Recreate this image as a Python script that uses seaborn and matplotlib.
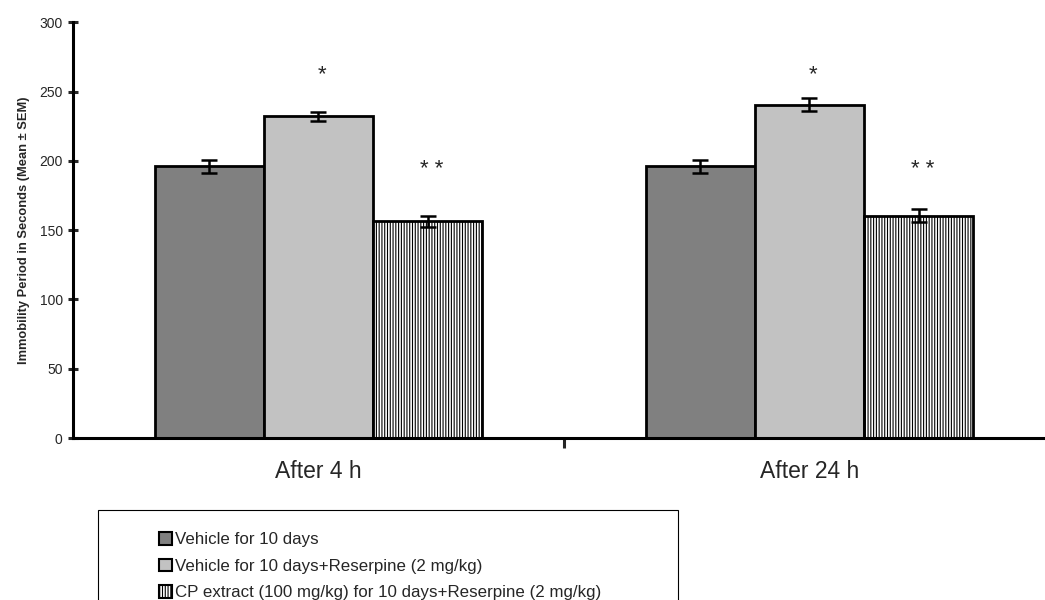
import pandas as pd
import matplotlib.pyplot as plt
import matplotlib.patches as mpatches
import seaborn as sns

# data
times = ["After 4 h", "After 24 h"]
groups = ["Vehicle for 10 days",
          "Vehicle for 10 days+Reserpine (2 mg/kg)",
          "CP extract (100 mg/kg) for 10 days+Reserpine (2 mg/kg)"]
means_4h = [196, 232, 156.5]
means_24h = [196, 240.5, 160.5]
sem_4h = [4.5, 3.5, 4]
sem_24h = [4.5, 4.5, 5]
stars_4h = ["", "*", "* *"]
stars_24h = ["", "*", "* *"]
star_y = [None, 258, 190]

colors = ["#808080", "#c2c2c2", "#ffffff"]
hatches = ["", "", "||||||"]

df = pd.DataFrame({
    "time": [times[0]] * 3 + [times[1]] * 3,
    "group": groups * 2,
    "mean": means_4h + means_24h,
    "sem": sem_4h + sem_24h,
})

sns.set_style("white")
plt.rcParams["font.family"] = ["Liberation Sans", "DejaVu Sans"]
plt.rcParams["hatch.linewidth"] = 0.8
plt.rcParams["hatch.color"] = "#666666"

fig = plt.figure(figsize=(10.45, 6), dpi=100)
ax = fig.add_axes([0.0699, 0.27, 0.9301, 0.693])

sns.barplot(data=df, x="time", y="mean", hue="group", hue_order=groups,
            order=times, palette=colors, width=0.667, saturation=1,
            edgecolor="black", linewidth=2, errorbar=None, legend=False, ax=ax)

# hatches / error bars / stars per bar
bar_conts = list(ax.containers)
for i, cont in enumerate(bar_conts):
    for j, bar in enumerate(cont.patches):
        bar.set_hatch(hatches[i])
        bar.set_edgecolor("black")
        cx = bar.get_x() + bar.get_width() / 2
        top = bar.get_height()
        err = (sem_4h if j == 0 else sem_24h)[i]
        ax.errorbar(cx, top, yerr=err, fmt="none", ecolor="black",
                    elinewidth=1.8, capsize=6, capthick=1.8, zorder=5)
        s = (stars_4h if j == 0 else stars_24h)[i]
        if s:
            ax.text(cx + 0.008, star_y[i], s, ha="center", va="baseline", fontsize=16)

ax.set_ylim(0, 300)
ax.set_yticks(range(0, 301, 50))
ax.set_xlim(-0.5, 1.48)
ax.set_xlabel("")
ax.set_ylabel("Immobility Period in Seconds (Mean \u00b1 SEM)", fontsize=9.3,
              fontweight="bold", labelpad=7)
for side in ["top", "right"]:
    ax.spines[side].set_visible(False)
for side in ["left", "bottom"]:
    ax.spines[side].set_linewidth(2.2)
    ax.spines[side].set_color("black")
ax.tick_params(axis="y", direction="inout", length=7, width=2.2, labelsize=10,
               left=True, pad=4)
ax.tick_params(axis="x", which="major", length=0, labelsize=16.5, pad=16)
ax.set_xticks([0.5], minor=True)
ax.tick_params(axis="x", which="minor", direction="out", length=7,
               width=2.2, bottom=True)

# legend box
fig.patches.append(mpatches.Rectangle((98 / 1045, -0.02), 580 / 1045, 0.17,
                                      transform=fig.transFigure, fill=False,
                                      edgecolor="black", linewidth=0.8))
handles = [mpatches.Patch(facecolor=colors[k], hatch=hatches[k], edgecolor="black",
                          linewidth=1.5, label=groups[k]) for k in range(3)]
fig.legend(handles=handles, loc="upper left", bbox_to_anchor=(159 / 1045, 0.113),
           frameon=False, fontsize=12.2, handlelength=0.77, handleheight=0.77,
           handletextpad=0.15, labelspacing=0.66, borderpad=0, borderaxespad=0)

fig.savefig("out.png", dpi=100)
